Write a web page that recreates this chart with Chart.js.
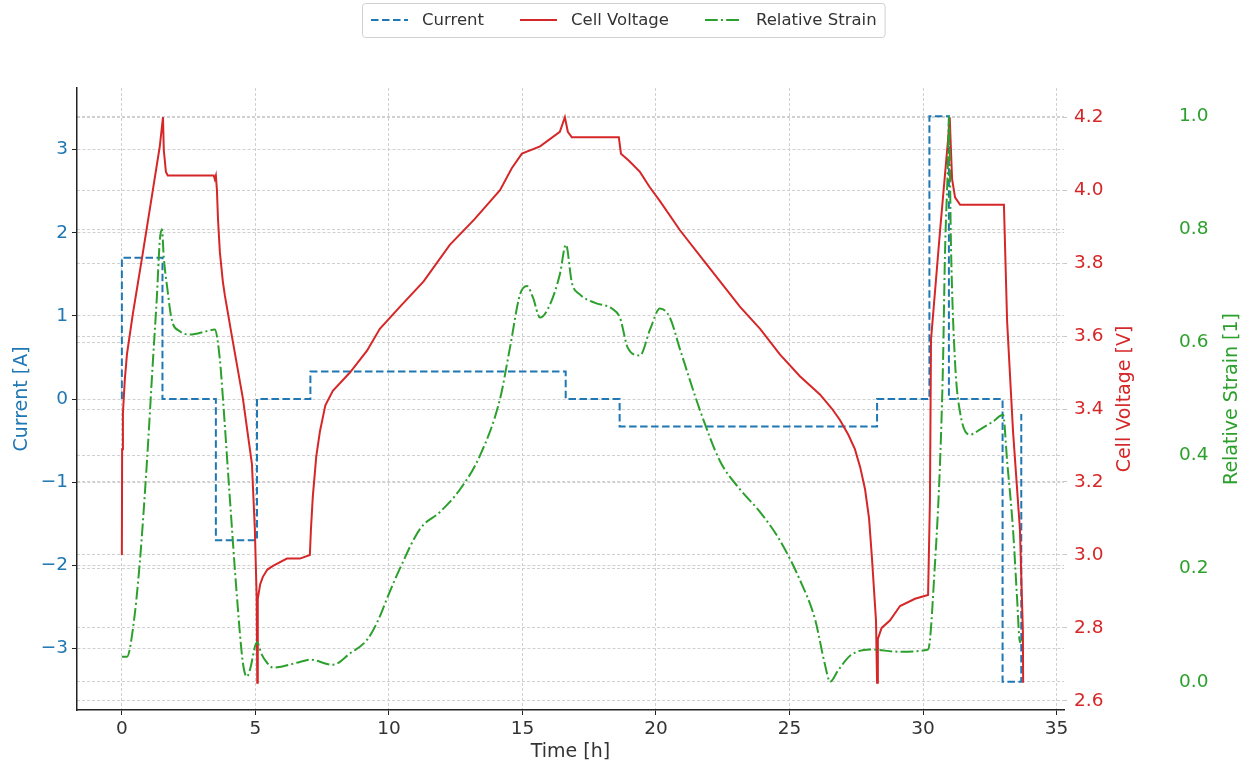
<!DOCTYPE html>
<html>
<head>
<meta charset="utf-8">
<title>Cycle test</title>
<script src="https://cdn.jsdelivr.net/npm/chart.js@4.4.1/dist/chart.umd.min.js"></script>
<style>
  body { margin: 0; background: #fff; }
  canvas { display: block; }
</style>
</head>
<body>
<canvas id="cycleChart" width="1247" height="767"></canvas>
<script>
// current profile (step changes are listed as two points at the same time)
const timeCurrent = [0, 0, 1.52, 1.52, 3.52, 3.52, 5.06, 5.06, 7.06, 7.06, 16.62, 16.62,
  18.64, 18.64, 28.28, 28.28, 30.24, 30.24, 30.97, 30.97, 32.98, 32.98, 33.68, 33.68];
const current = [0, 1.7, 1.7, 0, 0, -1.7, -1.7, 0, 0, 0.33, 0.33, 0,
  0, -0.33, -0.33, 0, 0, 3.4, 3.4, 0, 0, -3.4, -3.4, -0.18];

const timeVoltage = [0, 0.01, 0.04, 0.11, 0.19, 0.41, 0.79, 1.16, 1.42, 1.54, 1.57, 1.65, 1.72,
  3.44, 3.48, 3.52, 3.56, 3.6, 3.67, 3.78, 3.86, 4.12, 4.53, 4.87, 4.98, 5.05, 5.07, 5.09, 5.18,
  5.28, 5.45, 5.66, 6.18, 6.67, 7.04, 7.08, 7.15, 7.28, 7.42, 7.62, 7.9, 8.54, 9.18, 9.66, 10.41,
  11.3, 12.28, 13.2, 14.16, 14.6, 14.98, 15.66, 16.4, 16.59, 16.7, 16.85, 18.61, 18.69, 19.0,
  19.4, 19.75, 20.15, 20.9, 21.65, 22.4, 23.15, 23.9, 24.64, 25.39, 26.14, 26.6, 26.89, 27.2,
  27.45, 27.65, 27.83, 27.98, 28.09, 28.24, 28.28, 28.31, 28.45, 28.76, 29.14, 29.7, 30.19,
  30.26, 30.3, 30.64, 30.94, 31.0, 31.09, 31.2, 31.39, 33.03, 33.15, 33.37, 33.63, 33.74, 33.75];
const voltage = [3.0, 3.29, 3.39, 3.48, 3.55, 3.66, 3.83, 4.0, 4.12, 4.2, 4.11, 4.05, 4.04,
  4.04, 4.03, 4.04, 4.0, 3.92, 3.83, 3.75, 3.71, 3.6, 3.43, 3.25, 3.07, 2.88, 2.65, 2.88, 2.92,
  2.94, 2.96, 2.97, 2.99, 2.99, 3.0, 3.07, 3.16, 3.27, 3.34, 3.41, 3.45, 3.5, 3.56, 3.62, 3.68,
  3.75, 3.85, 3.92, 4.0, 4.06, 4.1, 4.12, 4.16, 4.2, 4.16, 4.145, 4.145, 4.1, 4.08,
  4.05, 4.01, 3.97, 3.89, 3.82, 3.75, 3.68, 3.62, 3.55, 3.49, 3.44, 3.4, 3.37, 3.33,
  3.29, 3.24, 3.18, 3.1, 2.99, 2.82, 2.65, 2.77, 2.8, 2.82, 2.86, 2.88, 2.89,
  3.15, 3.59, 3.89, 4.14, 4.2, 4.03, 3.98, 3.96, 3.96, 3.64, 3.34, 3.07, 2.79, 2.65];

const timeStrain = [0, 0.19, 0.41, 0.67, 0.94, 1.16, 1.31, 1.42, 1.5, 1.57, 1.69, 1.87, 2.17,
  2.55, 3.18, 3.48, 3.67, 3.78, 4.04, 4.31, 4.53, 4.68, 4.79, 5.06, 5.24, 5.43, 5.66, 6.67,
  7.04, 7.9, 8.54, 9.18, 9.55, 10.04, 10.41, 11.16, 11.91, 12.66, 13.41, 14.16, 14.53, 14.91,
  15.17, 15.39, 15.66, 16.03, 16.4, 16.63, 16.85, 17.15, 17.72, 18.35, 18.65, 18.95, 19.4,
  19.78, 20.15, 20.52, 20.9, 21.65, 22.4, 23.15, 23.9, 24.64, 25.39, 25.96, 26.33, 26.52,
  26.82, 27.27, 28.01, 29.14, 30.19, 30.45, 30.64, 30.75, 30.82, 30.94, 30.97, 31.05, 31.2,
  31.39, 31.76, 32.13, 32.62, 33.0, 33.15, 33.37, 33.52, 33.63, 33.67];
const strain = [0.044, 0.044, 0.092, 0.21, 0.39, 0.565, 0.68, 0.78, 0.8, 0.75, 0.7, 0.64, 0.62,
  0.614, 0.62, 0.623, 0.57, 0.504, 0.327, 0.15, 0.034, 0.009, 0.02, 0.07, 0.048, 0.034, 0.025, 0.035,
  0.039, 0.03, 0.05, 0.074, 0.104, 0.16, 0.2, 0.27, 0.3, 0.34, 0.4, 0.5, 0.59, 0.685,
  0.7, 0.68, 0.644, 0.667, 0.72, 0.773, 0.706, 0.685, 0.67, 0.66, 0.644, 0.59, 0.577,
  0.623, 0.66, 0.644, 0.588, 0.48, 0.39, 0.34, 0.3, 0.25, 0.18, 0.11, 0.03, 0.0,
  0.02, 0.046, 0.057, 0.053, 0.057, 0.21, 0.39, 0.565, 0.75, 0.93, 1.0, 0.765, 0.565,
  0.476, 0.437, 0.446, 0.46, 0.472, 0.39, 0.27, 0.15, 0.07, 0.074];

const timeTicks = [0, 5, 10, 15, 20, 25, 30, 35];
const currentTicks = [-3, -2, -1, 0, 1, 2, 3];
const voltageTicks = [2.6, 2.8, 3.0, 3.2, 3.4, 3.6, 3.8, 4.0, 4.2];
const strainTicks = [0, 0.2, 0.4, 0.6, 0.8, 1.0];

const blue = '#1f77b4';
const red = '#d62728';
const green = '#2ca02c';
const gridColor = '#d0d0d0';
const gridDash = [3, 2];

Chart.defaults.font.family = '"DejaVu Sans", sans-serif';

const toPoints = (xs, ys) => xs.map((x, i) => ({ x: x, y: ys[i] }));
const fixedTicks = list => scale => { scale.ticks = list.map(v => ({ value: v })); };
const minusSign = v => (v < 0 ? '\u2212' + Math.abs(v) : String(v));

// legend in a thin frame above the plot
const legendFrame = {
  id: 'legendFrame',
  afterDraw(chart) {
    const ctx = chart.ctx;
    const sets = chart.data.datasets;
    const lineLen = 37, textGap = 14, itemGap = 36;
    ctx.save();
    ctx.font = '16.5px "DejaVu Sans"';
    const widths = sets.map(ds => ctx.measureText(ds.label).width);
    const total = widths.reduce((sum, w) => sum + lineLen + textGap + w, 0) + itemGap * (sets.length - 1);
    let x = Math.round(chart.width / 2 - total / 2);
    const y = 20;
    ctx.beginPath();
    ctx.roundRect(x - 8.5, 3.5, total + 17, 34, 3);
    ctx.fillStyle = 'rgba(255,255,255,0.8)';
    ctx.fill();
    ctx.strokeStyle = '#d0d0d0';
    ctx.lineWidth = 1;
    ctx.stroke();
    sets.forEach((ds, i) => {
      ctx.beginPath();
      ctx.setLineDash(ds.borderDash || []);
      ctx.strokeStyle = ds.borderColor;
      ctx.lineWidth = ds.borderWidth;
      ctx.moveTo(x, y);
      ctx.lineTo(x + lineLen, y);
      ctx.stroke();
      ctx.setLineDash([]);
      ctx.fillStyle = '#333';
      ctx.textBaseline = 'middle';
      ctx.textAlign = 'left';
      ctx.fillText(ds.label, x + lineLen + textGap, y + 1);
      x += lineLen + textGap + widths[i] + itemGap;
    });
    ctx.restore();
  }
};

// titles of the two right-hand axes, read bottom to top
const sideTitles = [
  { axis: 'yVoltage', text: 'Cell Voltage [V]', color: red, inset: 25 },
  { axis: 'yStrain', text: 'Relative Strain [1]', color: green, inset: 15 }
];
const rightTitles = {
  id: 'rightTitles',
  afterDraw(chart) {
    const ctx = chart.ctx;
    const area = chart.chartArea;
    sideTitles.forEach(t => {
      const s = chart.scales[t.axis];
      ctx.save();
      ctx.translate(s.right - t.inset, (area.top + area.bottom) / 2);
      ctx.rotate(-Math.PI / 2);
      ctx.font = '19px "DejaVu Sans"';
      ctx.fillStyle = t.color;
      ctx.textAlign = 'center';
      ctx.textBaseline = 'middle';
      ctx.fillText(t.text, 0, 0);
      ctx.restore();
    });
  }
};

new Chart(document.getElementById('cycleChart'), {
  type: 'line',
  data: {
    datasets: [{
      label: 'Current',
      data: toPoints(timeCurrent, current),
      yAxisID: 'yCurrent',
      borderColor: blue,
      borderWidth: 2,
      borderDash: [7.5, 3.5],
      pointRadius: 0,
      order: 3
    }, {
      label: 'Cell Voltage',
      data: toPoints(timeVoltage, voltage),
      yAxisID: 'yVoltage',
      borderColor: red,
      borderWidth: 2,
      pointRadius: 0,
      order: 2
    }, {
      label: 'Relative Strain',
      data: toPoints(timeStrain, strain),
      yAxisID: 'yStrain',
      borderColor: green,
      borderWidth: 2,
      borderDash: [12.8, 3.2, 2, 3.2],
      cubicInterpolationMode: 'monotone',
      pointRadius: 0,
      order: 1
    }]
  },
  options: {
    responsive: false,
    animation: false,
    events: [],
    layout: { padding: { top: 88, left: 0, right: 0, bottom: 0 } },
    plugins: {
      legend: { display: false },
      tooltip: { enabled: false }
    },
    scales: {
      x: {
        type: 'linear',
        min: -1.68,
        max: 35.28,
        afterBuildTicks: fixedTicks(timeTicks),
        afterFit: s => { s.height = 57; },
        grid: { color: gridColor, tickColor: '#222', tickLength: 5 },
        border: { display: true, color: '#222', width: 1.5, dash: gridDash },
        ticks: { color: '#333', font: { size: 18.5 }, padding: 3, autoSkip: false, maxRotation: 0 },
        title: { display: true, text: 'Time [h]', color: '#333', font: { size: 19 }, padding: { top: 0, bottom: 4 } }
      },
      yCurrent: {
        position: 'left',
        min: -3.74,
        max: 3.74,
        afterBuildTicks: fixedTicks(currentTicks),
        afterFit: s => { s.width = 77; },
        grid: { color: gridColor, tickColor: '#222', tickLength: 5 },
        border: { display: true, color: '#222', width: 1.5, dash: gridDash },
        ticks: { color: blue, font: { size: 18.5 }, padding: 4, autoSkip: false, callback: minusSign },
        title: { display: true, text: 'Current [A]', color: blue, font: { size: 19 }, padding: { top: 11, bottom: 0 } }
      },
      yVoltage: {
        position: 'right',
        min: 2.575,
        max: 4.28,
        afterBuildTicks: fixedTicks(voltageTicks),
        afterFit: s => { s.width = 86; },
        grid: { color: gridColor, tickColor: '#c8c8c8', tickLength: 5, tickBorderDash: gridDash },
        border: { display: false, dash: gridDash },
        ticks: { color: red, font: { size: 18.5 }, padding: 5, autoSkip: false, callback: v => v.toFixed(1) }
      },
      yStrain: {
        position: 'right',
        min: -0.05,
        max: 1.05,
        afterBuildTicks: fixedTicks(strainTicks),
        afterFit: s => { s.width = 97; },
        grid: { color: gridColor, drawTicks: false },
        border: { display: false, dash: gridDash },
        ticks: { color: green, font: { size: 18.5 }, padding: 29, autoSkip: false, callback: v => v.toFixed(1) }
      }
    }
  },
  plugins: [legendFrame, rightTitles]
});
</script>
</body>
</html>
